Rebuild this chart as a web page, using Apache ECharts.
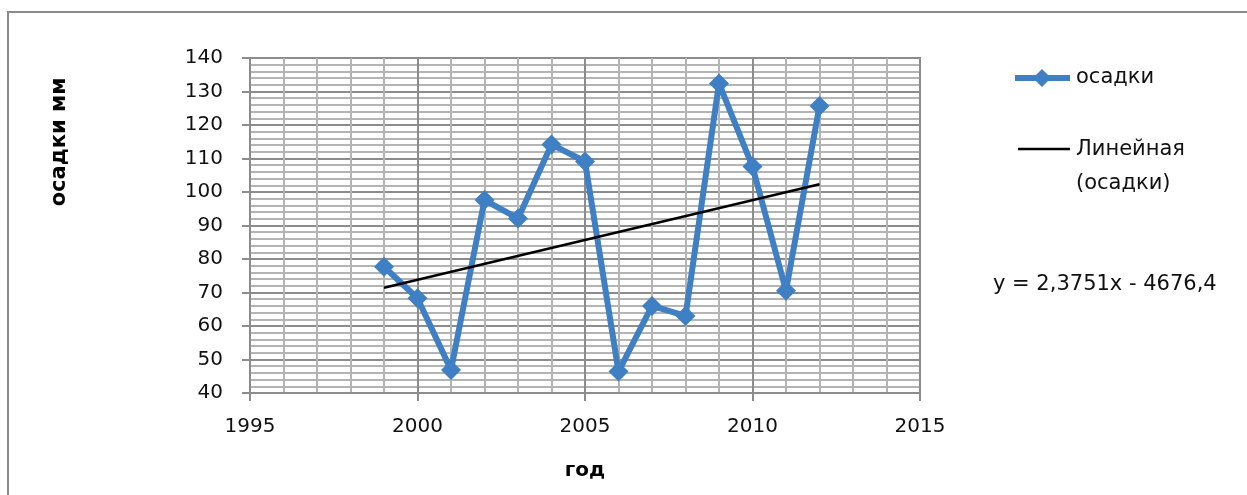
<!DOCTYPE html>
<html>
<head>
<meta charset="utf-8">
<script src="https://cdn.jsdelivr.net/npm/echarts@6/dist/echarts.min.js"></script>
<style>html,body{margin:0;padding:0;background:#fff;}#c{width:1247px;height:495px;}</style>
</head>
<body>
<div id="c"></div>
<script>
const years = [1999, 2000, 2001, 2002, 2003, 2004, 2005, 2006, 2007, 2008, 2009, 2010, 2011, 2012];
const precip = [77.7, 68.3, 46.9, 97.6, 92.1, 114.2, 109.1, 46.4, 66.0, 63.0, 132.4, 107.6, 70.5, 125.7];
const trendYears = [1999, 2012];
const trendValues = [71.4, 102.3];
const seriesName = 'осадки';
const trendName = 'Линейная (осадки)';
const equationText = 'y = 2,3751x - 4676,4';
const yTitle = 'осадки мм';
const xTitle = 'год';

const FONT = 'DejaVu Sans';
const BLUE = '#3f7fc4';
const chart = echarts.init(document.getElementById('c'), null, {renderer: 'canvas'});
chart.setOption({
  backgroundColor: '#ffffff',
  animation: false,
  grid: {left: 250, top: 58, width: 670, height: 335, show: true, borderColor: '#8c8c8c', borderWidth: 2},
  xAxis: {
    type: 'value', min: 1995, max: 2015, interval: 5,
    name: xTitle, nameLocation: 'middle', nameGap: 68,
    nameTextStyle: {fontFamily: FONT, fontWeight: 'bold', fontSize: 20, color: '#000'},
    axisLine: {show: true, lineStyle: {color: '#8c8c8c', width: 2}},
    axisTick: {show: true, length: 8, lineStyle: {color: '#8c8c8c', width: 2}},
    axisLabel: {fontFamily: FONT, fontSize: 20, color: '#111', margin: 24, formatter: v => String(v)},
    splitLine: {show: true, lineStyle: {color: '#8c8c8c', width: 2}},
    minorTick: {show: false, splitNumber: 5},
    minorSplitLine: {show: true, lineStyle: {color: '#b4b4b4', width: 2}}
  },
  yAxis: {
    type: 'value', min: 40, max: 140, interval: 10,
    axisLine: {show: true, lineStyle: {color: '#8c8c8c', width: 2}},
    axisTick: {show: true, length: 8, lineStyle: {color: '#8c8c8c', width: 2}},
    axisLabel: {fontFamily: FONT, fontSize: 20, color: '#111', margin: 27},
    splitLine: {show: true, lineStyle: {color: '#8c8c8c', width: 2}},
    minorTick: {show: false, splitNumber: 5},
    minorSplitLine: {show: true, lineStyle: {color: '#b4b4b4', width: 2}}
  },
  series: [
    {
      name: seriesName, type: 'line',
      data: years.map((y, i) => [y, precip[i]]),
      lineStyle: {color: BLUE, width: 6},
      itemStyle: {color: BLUE},
      symbol: 'diamond', symbolSize: 20, showSymbol: true, z: 3
    },
    {
      name: trendName, type: 'line',
      data: trendYears.map((y, i) => [y, trendValues[i]]),
      lineStyle: {color: '#000', width: 2.5},
      symbol: 'none', z: 4
    }
  ],
  graphic: [
    {type: 'rect', shape: {x: 8, y: 12, width: 1300, height: 600}, style: {fill: 'none', stroke: '#8a8a8a', lineWidth: 2}, z: -1, silent: true},
    {type: 'text', x: 60, y: 142, rotation: Math.PI / 2,
      style: {text: yTitle, fontFamily: FONT, fontWeight: 'bold', fontSize: 21, fill: '#000', textAlign: 'center', textVerticalAlign: 'middle'}},
    {type: 'line', shape: {x1: 1015, y1: 78, x2: 1070, y2: 78}, style: {stroke: BLUE, lineWidth: 6}},
    {type: 'polygon', shape: {points: [[1042, 69], [1051, 78], [1042, 87], [1033, 78]]}, style: {fill: BLUE}},
    {type: 'text', x: 1076, y: 78, style: {text: seriesName, fontFamily: FONT, fontSize: 21, fill: '#111', textVerticalAlign: 'middle'}},
    {type: 'line', shape: {x1: 1018, y1: 149, x2: 1070, y2: 149}, style: {stroke: '#000', lineWidth: 2.5}},
    {type: 'text', x: 1076, y: 150, style: {text: 'Линейная', fontFamily: FONT, fontSize: 21, fill: '#111', textVerticalAlign: 'middle'}},
    {type: 'text', x: 1076, y: 184, style: {text: '(осадки)', fontFamily: FONT, fontSize: 21, fill: '#111', textVerticalAlign: 'middle'}},
    {type: 'text', x: 993, y: 285, style: {text: equationText, fontFamily: FONT, fontSize: 21, fill: '#111', textVerticalAlign: 'middle'}}
  ]
});
</script>
</body>
</html>
